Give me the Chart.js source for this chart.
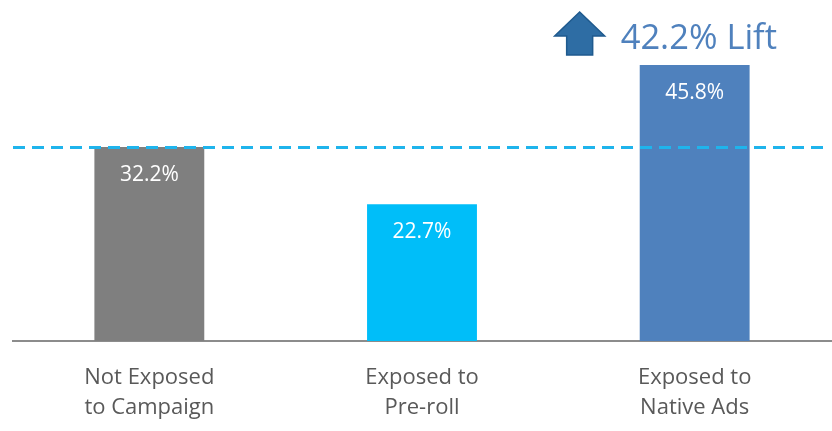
<!DOCTYPE html>
<html>
<head>
<meta charset="utf-8">
<script src="https://cdn.jsdelivr.net/npm/chart.js@4.4.1/dist/chart.umd.min.js"></script>
<style>
  html, body { margin: 0; padding: 0; background: #fff; }
  #wrap { width: 832px; height: 431px; }
</style>
</head>
<body>
<div id="wrap"><canvas id="chart" width="832" height="431"></canvas></div>
<script>
const categories = [['Not Exposed', 'to Campaign'], ['Exposed to', 'Pre-roll'], ['Exposed to', 'Native Ads']];
const values = [32.2, 22.7, 45.8];
const barColors = ['#7f7f7f', '#00bef9', '#4f81bd'];
const baselineValue = values[0];
const liftText = '42.2% Lift';

const FONT = '"Open Sans", "Noto Sans", sans-serif';

// dashed reference line, value labels and the lift callout
const extras = {
  id: 'extras',
  afterDatasetsDraw(chart) {
    const ctx = chart.ctx;
    const area = chart.chartArea;
    const y = chart.scales.y;
    const meta = chart.getDatasetMeta(0);

    // labels inside the bars
    ctx.save();
    ctx.fillStyle = '#ffffff';
    ctx.font = '21px ' + FONT;
    ctx.textAlign = 'center';
    ctx.textBaseline = 'middle';
    meta.data.forEach((bar, i) => {
      ctx.fillText(values[i].toFixed(1) + '%', bar.x, bar.y + 28);
    });
    ctx.restore();

    // dashed baseline
    const yb = Math.round(y.getPixelForValue(baselineValue)) + 0.5;
    ctx.save();
    ctx.strokeStyle = '#1fb4ec';
    ctx.lineWidth = 3;
    ctx.setLineDash([12, 7]);
    ctx.beginPath();
    ctx.moveTo(area.left, yb);
    ctx.lineTo(area.right - 4, yb);
    ctx.stroke();
    ctx.restore();

    // lift arrow + text above the last bar
    const last = meta.data[meta.data.length - 1];
    const cx = last.x - 115, top = 12, bottom = 55;
    ctx.save();
    ctx.fillStyle = '#2e6da4';
    ctx.strokeStyle = '#1f5a8e';
    ctx.lineWidth = 1.5;
    ctx.beginPath();
    ctx.moveTo(cx, top);
    ctx.lineTo(cx + 25, top + 24);
    ctx.lineTo(cx + 13, top + 24);
    ctx.lineTo(cx + 13, bottom);
    ctx.lineTo(cx - 13, bottom);
    ctx.lineTo(cx - 13, top + 24);
    ctx.lineTo(cx - 25, top + 24);
    ctx.closePath();
    ctx.fill();
    ctx.stroke();

    ctx.fillStyle = '#4f81bd';
    ctx.font = '34.5px ' + FONT;
    ctx.textAlign = 'left';
    ctx.textBaseline = 'middle';
    ctx.fillText(liftText, last.x - 74, 39);
    ctx.restore();
  }
};

new Chart(document.getElementById('chart'), {
  type: 'bar',
  data: {
    labels: categories,
    datasets: [{
      data: values,
      backgroundColor: barColors,
      categoryPercentage: 1,
      barPercentage: 0.403
    }]
  },
  options: {
    responsive: false,
    animation: false,
    layout: { padding: { left: 13, right: 1, top: 0, bottom: 0 } },
    plugins: { legend: { display: false }, tooltip: { enabled: false } },
    scales: {
      y: {
        display: false,
        min: 0,
        max: 56.6
      },
      x: {
        grid: { display: false, drawTicks: false },
        border: { display: true, color: '#8c8c8c', width: 2 },
        ticks: {
          padding: 22,
          color: '#595959',
          font: { family: FONT, size: 22, lineHeight: 30 / 22 }
        },
        afterFit(scale) { scale.height = 90; }
      }
    }
  },
  plugins: [extras]
});
</script>
</body>
</html>
